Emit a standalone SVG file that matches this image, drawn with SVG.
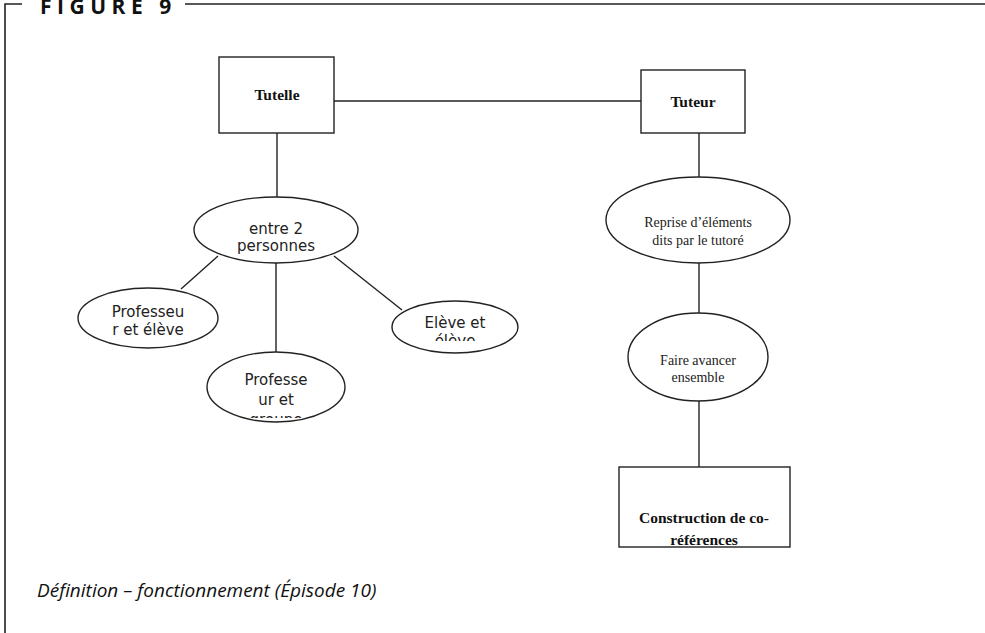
<svg xmlns="http://www.w3.org/2000/svg" width="985" height="633" viewBox="0 0 985 633">
  <style>
    .frame { stroke: #222; stroke-width: 1.6; fill: none; }
    .box { fill: #fff; stroke: #222; stroke-width: 1.4; }
    .link { stroke: #222; stroke-width: 1.4; fill: none; }
    .sans { font-family: "DejaVu Sans", "Liberation Sans", sans-serif; font-size: 15px; fill: #222; text-anchor: middle; }
    .serif { font-family: "Liberation Serif", "DejaVu Serif", serif; font-size: 14px; fill: #222; text-anchor: middle; }
    .serifb { font-family: "Liberation Serif", "DejaVu Serif", serif; font-size: 15.5px; font-weight: bold; fill: #111; text-anchor: middle; }
    .title { font-family: "Open Sans", "DejaVu Sans", sans-serif; font-size: 21px; font-weight: bold; letter-spacing: 5.5px; fill: #111; }
    .caption { font-family: "Open Sans", "DejaVu Sans", sans-serif; font-size: 19px; font-style: italic; fill: #111; }
  </style>
  <defs>
    <clipPath id="clip-groupe"><rect x="207" y="352" width="138" height="66"/></clipPath>
    <clipPath id="clip-eleve"><rect x="392" y="301" width="126" height="40"/></clipPath>
  </defs>
  <rect width="985" height="633" fill="#fff"/>

  <!-- outer frame with title -->
  <g id="frame">
    <path class="frame" d="M5,633 V4 H22 M185,4 H985"/>
    <text class="title" x="40" y="14">FIGURE 9</text>
  </g>

  <!-- connectors -->
  <g id="connectors">
    <line class="link" x1="334" y1="101" x2="641" y2="101"/>
    <line class="link" x1="277" y1="133" x2="277" y2="198"/>
    <line class="link" x1="218" y1="256" x2="181" y2="289"/>
    <line class="link" x1="276" y1="263" x2="276" y2="352"/>
    <line class="link" x1="334" y1="256" x2="402" y2="310"/>
    <line class="link" x1="699" y1="133" x2="699" y2="177"/>
    <line class="link" x1="699" y1="263" x2="699" y2="313"/>
    <line class="link" x1="699" y1="400" x2="699" y2="467"/>
  </g>

  <g id="tutelle">
    <rect class="box" x="219" y="57" width="115" height="76"/>
    <text class="serifb" x="277" y="100">Tutelle</text>
  </g>

  <g id="tuteur">
    <rect class="box" x="641" y="70" width="104" height="63"/>
    <text class="serifb" x="693" y="107">Tuteur</text>
  </g>

  <g id="entre-2-personnes">
    <ellipse class="box" cx="276" cy="230" rx="82" ry="33"/>
    <text class="sans" x="276" y="234">entre 2</text>
    <text class="sans" x="276" y="251">personnes</text>
  </g>

  <g id="professeur-eleve">
    <ellipse class="box" cx="148" cy="318" rx="70" ry="30"/>
    <text class="sans" x="148" y="317">Professeu</text>
    <text class="sans" x="148" y="335">r et élève</text>
  </g>

  <g id="professeur-groupe">
    <ellipse class="box" cx="276" cy="387" rx="69" ry="35"/>
    <g clip-path="url(#clip-groupe)">
      <text class="sans" x="276" y="385">Professe</text>
      <text class="sans" x="276" y="405">ur et</text>
      <text class="sans" x="276" y="425">groupe</text>
    </g>
  </g>

  <g id="eleve-eleve">
    <ellipse class="box" cx="455" cy="327" rx="63" ry="26"/>
    <g clip-path="url(#clip-eleve)">
      <text class="sans" x="455" y="328">Elève et</text>
      <text class="sans" x="455" y="346">élève</text>
    </g>
  </g>

  <g id="reprise">
    <ellipse class="box" cx="698" cy="220" rx="92" ry="43"/>
    <text class="serif" x="698" y="227">Reprise d’éléments</text>
    <text class="serif" x="698" y="245">dits par le tutoré</text>
  </g>

  <g id="faire-avancer">
    <ellipse class="box" cx="698" cy="357" rx="70" ry="44"/>
    <text class="serif" x="698" y="365">Faire avancer</text>
    <text class="serif" x="698" y="382">ensemble</text>
  </g>

  <g id="construction">
    <rect class="box" x="619" y="467" width="171" height="80"/>
    <text class="serifb" x="704" y="523">Construction de co-</text>
    <text class="serifb" x="704" y="545">références</text>
  </g>

  <text class="caption" x="37" y="597">Définition – fonctionnement (Épisode 10)</text>
</svg>
